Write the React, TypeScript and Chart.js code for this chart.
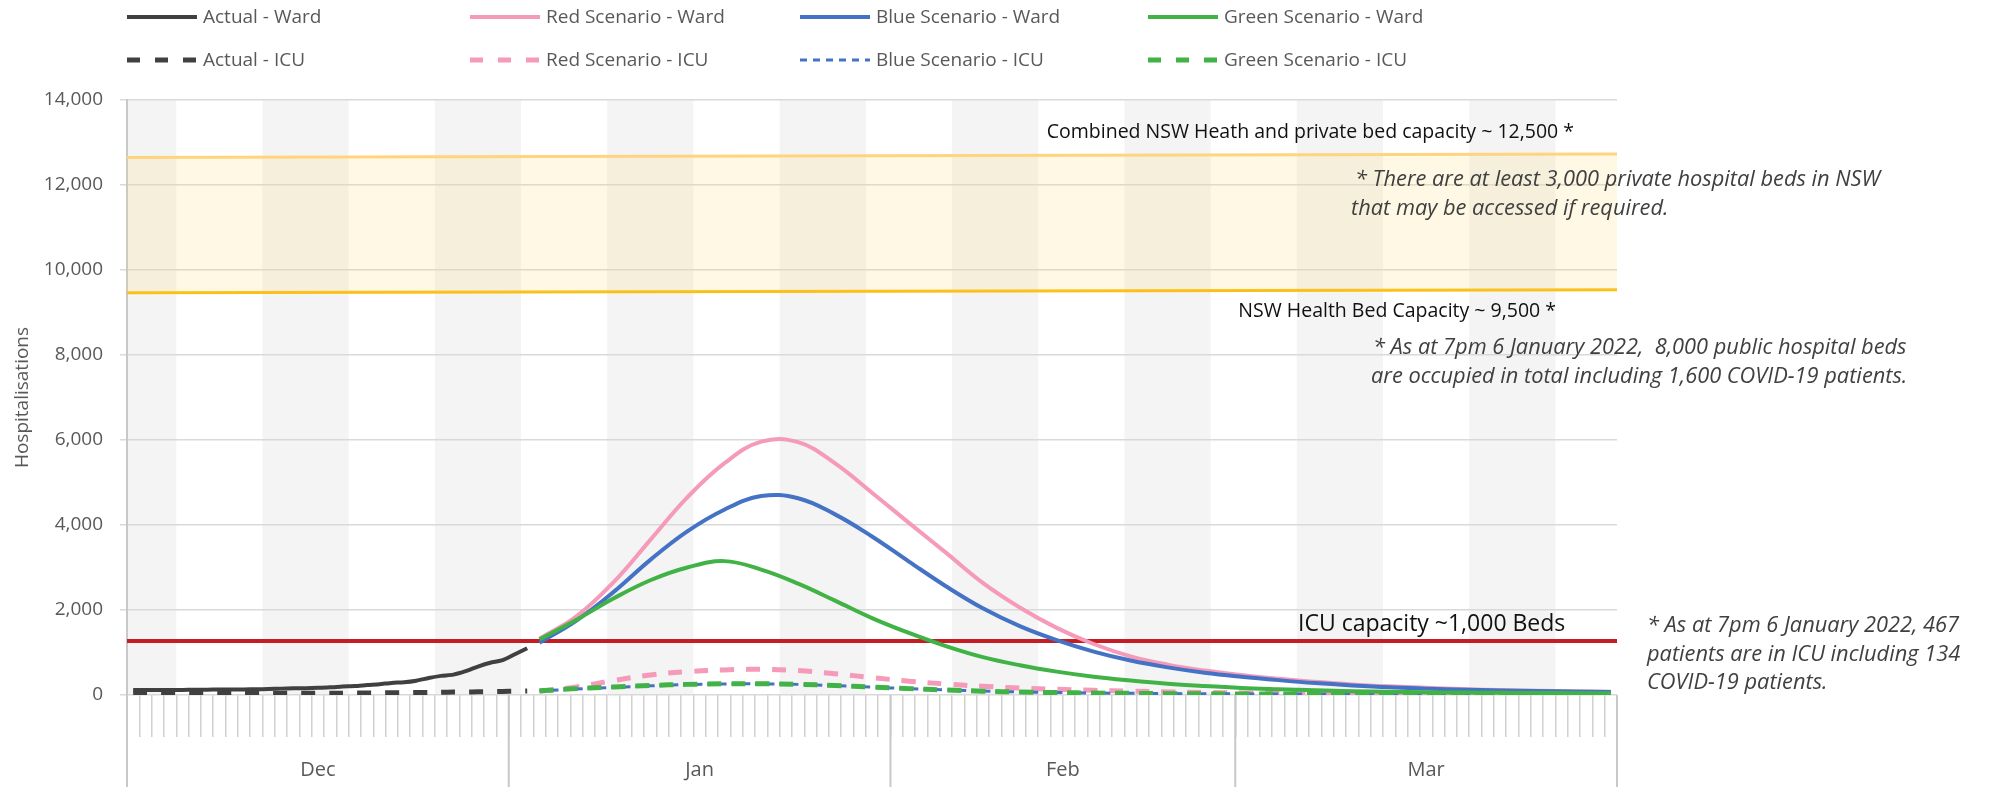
import React, { useEffect, useRef } from 'react';
import { Chart, registerables } from 'chart.js';
Chart.register(...registerables);

// ---------- categories ----------
const MONTHS = ['Dec', 'Jan', 'Feb', 'Mar'];
const MONTH_DAYS = [31, 31, 28, 31];
const DAY_LABELS: string[] = [];
MONTHS.forEach((m, i) => {
  for (let d = 1; d <= MONTH_DAYS[i]; d++) DAY_LABELS.push(`${d} ${m}`);
});

// ---------- actual (Dec 1 .. Jan 2) ----------
const ACTUAL_WARD = [120, 118, 118, 120, 120, 122, 125, 128, 130, 132, 135, 140, 150, 157, 160, 170, 180, 200, 210, 235, 255, 285, 300, 337, 400, 450, 480, 560, 670, 760, 820, 960, 1100];
const ACTUAL_ICU = [35, 35, 34, 35, 36, 36, 37, 37, 38, 38, 38, 39, 40, 40, 41, 42, 43, 44, 46, 48, 50, 52, 55, 58, 60, 64, 68, 70, 75, 80, 85, 90, 95];

// ---------- scenarios (day index into DAY_LABELS) ----------
const SCEN_DAYS = [33, 36, 39, 42, 45, 48, 51, 54, 57, 60, 63, 66, 69, 72, 75, 78, 81, 84, 87, 90, 93, 96, 99, 102, 105, 108, 111, 114, 117, 120];
const RED_WARD = [1330, 1850, 2650, 3650, 4650, 5450, 5960, 5950, 5450, 4760, 4050, 3350, 2640, 2060, 1580, 1200, 910, 715, 575, 470, 380, 310, 250, 205, 170, 140, 115, 100, 85, 75];
const BLUE_WARD = [1230, 1750, 2420, 3180, 3850, 4360, 4680, 4630, 4250, 3730, 3140, 2560, 2040, 1620, 1290, 1020, 810, 650, 525, 430, 350, 280, 225, 180, 150, 125, 108, 92, 80, 70];
const GREEN_WARD = [1310, 1770, 2270, 2700, 3000, 3150, 2950, 2620, 2220, 1810, 1460, 1150, 890, 700, 550, 430, 340, 265, 210, 165, 135, 110, 90, 75, 65, 58, 52, 48, 44, 40];
const RED_ICU = [90, 190, 340, 470, 550, 590, 605, 575, 500, 410, 325, 260, 205, 165, 135, 110, 90, 72, 60, 50, 42, 36, 32, 28, 25, 22, 20, 18, 16, 15];
const BLUE_ICU = [95, 140, 180, 215, 245, 260, 262, 250, 220, 185, 150, 120, 92, 72, 58, 48, 40, 34, 30, 27, 25, 23, 21, 20, 19, 18, 17, 16, 15, 15];
const GREEN_ICU = [100, 150, 190, 225, 250, 265, 265, 252, 222, 185, 150, 118, 90, 70, 56, 46, 38, 32, 28, 25, 23, 21, 20, 19, 18, 17, 16, 15, 15, 14];

// ---------- capacity lines (start, end of period) ----------
const SPAN_LABELS = ['1 Dec', '31 Mar'];
const COMBINED_CAP = [12650, 12730];
const NSW_CAP = [9465, 9535];
const ICU_CAP = [1270, 1270];

const Y_TICKS = [0, 2000, 4000, 6000, 8000, 10000, 12000, 14000];

const COLORS = {
  actual: '#404040',
  red: '#f59ab8',
  blue: '#4472c4',
  green: '#41b346',
  icuCap: '#c41e25',
  combined: '#ffd47f',
  nsw: '#fbbf12',
  band: 'rgba(255, 214, 110, 0.18)',
  stripe: '#f4f4f4',
  grid: '#d9d9d9',
  axis: '#c8c8c8',
  tick: '#595959',
};

const FONT = '"Open Sans", "Noto Sans", sans-serif';

const LEGEND = [
  { label: 'Actual - Ward', color: COLORS.actual, dash: [] as number[], width: 4, col: 0, row: 0 },
  { label: 'Red Scenario - Ward', color: COLORS.red, dash: [], width: 4, col: 1, row: 0 },
  { label: 'Blue Scenario - Ward', color: COLORS.blue, dash: [], width: 4, col: 2, row: 0 },
  { label: 'Green Scenario - Ward', color: COLORS.green, dash: [], width: 4, col: 3, row: 0 },
  { label: 'Actual - ICU', color: COLORS.actual, dash: [13, 15], width: 5, col: 0, row: 1 },
  { label: 'Red Scenario - ICU', color: COLORS.red, dash: [13, 15], width: 5, col: 1, row: 1 },
  { label: 'Blue Scenario - ICU', color: COLORS.blue, dash: [7, 6], width: 3, col: 2, row: 1 },
  { label: 'Green Scenario - ICU', color: COLORS.green, dash: [13, 15], width: 5, col: 3, row: 1 },
];
const LEGEND_COLS = [127, 470, 800, 1148];
const LEGEND_ROWS = [17, 60];

const decorPlugin = {
  id: 'decor',
  beforeDraw(chart: any) {
    const { ctx, chartArea: a, scales } = chart;
    const x = scales.x;
    const half = (x.getPixelForValue(1) - x.getPixelForValue(0)) / 2;
    ctx.save();
    ctx.fillStyle = COLORS.stripe;
    // weekly stripes (weeks start Sunday; 1 Dec 2021 is a Wednesday)
    let d = 0;
    while (d < DAY_LABELS.length) {
      const w = Math.floor((d + 3) / 7);
      let e = d;
      while (e + 1 < DAY_LABELS.length && Math.floor((e + 4) / 7) === w) e++;
      if (w % 2 === 0) {
        const x0 = x.getPixelForValue(d) - half;
        const x1 = x.getPixelForValue(e) + half;
        ctx.fillRect(x0, a.top, x1 - x0, a.bottom - a.top);
      }
      d = e + 1;
    }
    ctx.restore();
  },
  afterDraw(chart: any) {
    const { ctx, chartArea: a, scales, height } = chart;
    const x = scales.x;
    const half = (x.getPixelForValue(1) - x.getPixelForValue(0)) / 2;
    ctx.save();
    // month separators and labels
    let start = 0;
    const bounds: number[] = [x.getPixelForValue(0) - half];
    MONTH_DAYS.forEach((n) => {
      start += n;
      bounds.push(x.getPixelForValue(start - 1) + half);
    });
    ctx.strokeStyle = COLORS.axis;
    ctx.lineWidth = 2;
    bounds.forEach((bx) => {
      ctx.beginPath();
      ctx.moveTo(bx, a.bottom);
      ctx.lineTo(bx, height);
      ctx.stroke();
    });
    ctx.fillStyle = COLORS.tick;
    ctx.font = `20px ${FONT}`;
    ctx.textAlign = 'center';
    ctx.textBaseline = 'middle';
    MONTHS.forEach((m, i) => {
      ctx.fillText(m, (bounds[i] + bounds[i + 1]) / 2, 770);
    });

    // legend
    ctx.textAlign = 'left';
    ctx.font = `19px ${FONT}`;
    LEGEND.forEach((it) => {
      const lx = LEGEND_COLS[it.col];
      const ly = LEGEND_ROWS[it.row];
      ctx.strokeStyle = it.color;
      ctx.lineWidth = it.width;
      ctx.setLineDash(it.dash);
      ctx.lineCap = 'butt';
      ctx.beginPath();
      ctx.moveTo(lx, ly);
      ctx.lineTo(lx + 70, ly);
      ctx.stroke();
      ctx.setLineDash([]);
      ctx.fillStyle = COLORS.tick;
      ctx.fillText(it.label, lx + 76, ly + 1);
    });

    // annotations
    ctx.fillStyle = '#111111';
    ctx.font = `19.5px ${FONT}`;
    ctx.textAlign = 'right';
    ctx.fillText('Combined NSW Heath and private bed capacity ~ 12,500 *', 1574, 132);
    ctx.fillText('NSW Health Bed Capacity ~ 9,500 *', 1556, 311);
    ctx.textAlign = 'left';
    ctx.font = `23px ${FONT}`;
    ctx.fillText('ICU capacity ~1,000 Beds', 1298, 624);

    ctx.fillStyle = '#404040';
    ctx.font = `italic 21.8px ${FONT}`;
    ctx.fillText('* There are at least 3,000 private hospital beds in NSW', 1355, 180);
    ctx.fillText('that may be accessed if required.', 1351, 209);
    ctx.fillText('* As at 7pm 6 January 2022,  8,000 public hospital beds', 1373, 348);
    ctx.fillText('are occupied in total including 1,600 COVID-19 patients.', 1371, 377);
    ctx.fillText('* As at 7pm 6 January 2022, 467', 1647, 626);
    ctx.fillText('patients are in ICU including 134', 1647, 655);
    ctx.fillText('COVID-19 patients.', 1647, 683);
    ctx.restore();
  },
};

function scen(values: number[]) {
  return SCEN_DAYS.map((d, i) => ({ x: DAY_LABELS[d], y: values[i] }));
}
function span(values: number[]) {
  return SPAN_LABELS.map((l, i) => ({ x: l, y: values[i] }));
}

export default function App() {
  const ref = useRef<HTMLCanvasElement | null>(null);
  useEffect(() => {
    if (!ref.current) return;
    const line = (extra: any) => ({ pointRadius: 0, fill: false, ...extra });
    const chart = new Chart(ref.current, {
      type: 'line',
      data: {
        labels: DAY_LABELS,
        datasets: [
          line({ label: 'Actual - Ward', data: ACTUAL_WARD, borderColor: COLORS.actual, borderWidth: 4, tension: 0.2, order: 1 }),
          line({ label: 'Actual - ICU', data: ACTUAL_ICU, borderColor: COLORS.actual, borderWidth: 5, borderDash: [14, 14], tension: 0.2, order: 2 }),
          line({ label: 'Red Scenario - Ward', data: scen(RED_WARD), borderColor: COLORS.red, borderWidth: 4, tension: 0.4, order: 3 }),
          line({ label: 'Blue Scenario - Ward', data: scen(BLUE_WARD), borderColor: COLORS.blue, borderWidth: 4, tension: 0.4, order: 2 }),
          line({ label: 'Green Scenario - Ward', data: scen(GREEN_WARD), borderColor: COLORS.green, borderWidth: 4, tension: 0.4, order: 1 }),
          line({ label: 'Red Scenario - ICU', data: scen(RED_ICU), borderColor: COLORS.red, borderWidth: 5, borderDash: [14, 12], tension: 0.4, order: 3 }),
          line({ label: 'Blue Scenario - ICU', data: scen(BLUE_ICU), borderColor: COLORS.blue, borderWidth: 3, borderDash: [7, 5], tension: 0.4, order: 2 }),
          line({ label: 'Green Scenario - ICU', data: scen(GREEN_ICU), borderColor: COLORS.green, borderWidth: 5, borderDash: [14, 10], tension: 0.4, order: 1 }),
          line({ label: 'ICU capacity', data: span(ICU_CAP), xAxisID: 'xb', borderColor: COLORS.icuCap, borderWidth: 4, order: 5 }),
          line({ label: 'Combined capacity', data: span(COMBINED_CAP), xAxisID: 'xb', borderColor: COLORS.combined, borderWidth: 3, fill: '+1', backgroundColor: COLORS.band, order: 6 }),
          line({ label: 'NSW capacity', data: span(NSW_CAP), xAxisID: 'xb', borderColor: COLORS.nsw, borderWidth: 3, order: 6 }),
        ],
      },
      options: {
        responsive: false,
        animation: false,
        devicePixelRatio: 1,
        events: [],
        layout: { padding: { top: 100, right: 373, left: 0, bottom: 0 } },
        plugins: { legend: { display: false }, tooltip: { enabled: false }, title: { display: false } },
        scales: {
          x: {
            type: 'category',
            offset: true,
            grid: { offset: true, drawOnChartArea: false, drawTicks: true, tickLength: 42, color: '#d0d0d0', lineWidth: 1.5 },
            border: { display: false },
            ticks: { autoSkip: false, maxRotation: 0, callback: () => '' },
            afterFit: (s: any) => { s.height = 92; },
          },
          xb: {
            type: 'category',
            labels: SPAN_LABELS,
            offset: false,
            display: false,
          },
          y: {
            min: 0,
            max: 14000,
            afterBuildTicks: (s: any) => { s.ticks = Y_TICKS.map((v) => ({ value: v })); },
            grid: { color: COLORS.grid, lineWidth: 1.5, tickLength: 7, drawTicks: true },
            border: { display: true, color: COLORS.axis, width: 2 },
            ticks: {
              padding: 17,
              color: COLORS.tick,
              font: { family: FONT, size: 19 },
              callback: (v: any) => Number(v).toLocaleString('en-US'),
            },
            title: {
              display: true,
              text: 'Hospitalisations',
              color: COLORS.tick,
              font: { family: FONT, size: 19 },
              padding: { top: 11, bottom: 0 },
            },
            afterFit: (s: any) => { s.width = 127; },
          },
        },
      },
      plugins: [decorPlugin],
    });
    return () => chart.destroy();
  }, []);
  return (
    <div style={{ position: 'fixed', left: 0, top: 0, width: 1990, height: 787, background: '#fff' }}>
      <canvas ref={ref} width={1990} height={787} style={{ display: 'block' }} />
    </div>
  );
}
